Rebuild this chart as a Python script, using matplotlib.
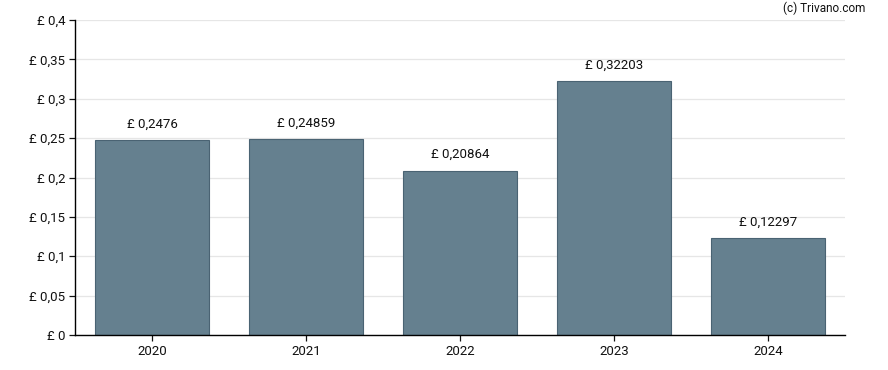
import matplotlib.pyplot as plt

years = ['2020', '2021', '2022', '2023', '2024']
values = [0.2476, 0.24859, 0.20864, 0.32203, 0.12297]
value_labels = ['£ 0,2476', '£ 0,24859', '£ 0,20864', '£ 0,32203', '£ 0,12297']
y_ticks = [0, 0.05, 0.1, 0.15, 0.2, 0.25, 0.3, 0.35, 0.4]
y_tick_labels = ['£ 0', '£ 0,05', '£ 0,1', '£ 0,15', '£ 0,2', '£ 0,25', '£ 0,3', '£ 0,35', '£ 0,4']

plt.rcParams['font.family'] = ['Roboto', 'DejaVu Sans']

fig = plt.figure(figsize=(8.88, 3.70), dpi=100)
ax = fig.add_axes([75 / 888, 35 / 370, 770 / 888, 315 / 370])

x = range(len(years))
ax.bar(x, values, width=0.745, color='#65808f', edgecolor='#4a6373', linewidth=0.8, zorder=2)

for xi, v, lab in zip(x, values, value_labels):
    ax.text(xi, v + 0.012, lab, ha='center', va='bottom', fontsize=9.5, color='#111111')

ax.set_xlim(-0.5, len(years) - 0.5)
ax.set_ylim(0, 0.4)
ax.set_xticks(list(x))
ax.set_xticklabels(years, fontsize=9.5)
ax.set_yticks(y_ticks)
ax.set_yticklabels(y_tick_labels, fontsize=9.5)

ax.grid(axis='y', color='#e6e6e6', linewidth=0.9, zorder=0)
ax.set_axisbelow(True)
for side in ['top', 'right']:
    ax.spines[side].set_visible(False)
ax.spines['left'].set_linewidth(1.0)
ax.spines['bottom'].set_linewidth(1.0)
ax.tick_params(axis='both', length=4, width=0.9, colors='#111111', pad=3)

fig.text(865 / 888, 1 - 8 / 370, '(c) Trivano.com', ha='right', va='center', fontsize=8.5, color='#111111')

plt.savefig('out.png', dpi=100)
plt.close()
